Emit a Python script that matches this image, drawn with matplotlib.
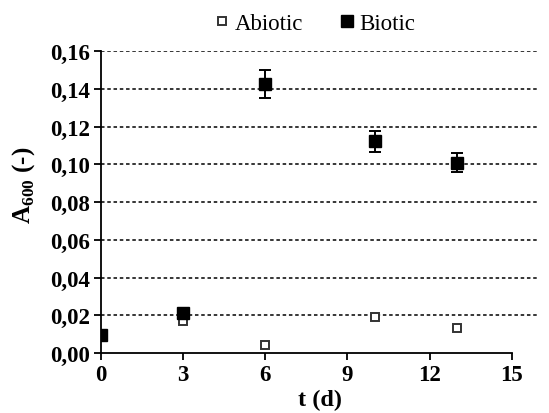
import matplotlib
matplotlib.use("Agg")
import matplotlib.pyplot as plt
from matplotlib.ticker import FuncFormatter
from matplotlib.lines import Line2D

plt.rcParams['font.family'] = ['Liberation Serif', 'DejaVu Serif']
plt.rcParams['mathtext.fontset'] = 'custom'
plt.rcParams['mathtext.rm'] = 'Liberation Serif'
plt.rcParams['mathtext.bf'] = 'Liberation Serif:bold'

t_biotic = [0, 3, 6, 10, 13]
a_biotic = [0.0095, 0.021, 0.1425, 0.1122, 0.1008]
err_biotic = [0.001, 0.0015, 0.0075, 0.0055, 0.005]

t_abiotic = [0, 3, 6, 10, 13]
a_abiotic = [0.009, 0.0168, 0.0044, 0.0189, 0.0132]
err_abiotic = [0.0005, 0.0012, 0.0008, 0.0008, 0.0008]

xticks = [0, 3, 6, 9, 12, 15]
yticks = [0.00, 0.02, 0.04, 0.06, 0.08, 0.10, 0.12, 0.14, 0.16]

fig = plt.figure(figsize=(5.49, 4.14), dpi=100)
ax = fig.add_axes([0.184, 0.145, 0.798, 0.729])

for y in yticks[1:]:
    ax.axhline(y, color='black', lw=1.1, linestyle=(0, (2.3, 1.8)), zorder=1)

ax.errorbar(t_abiotic, a_abiotic, yerr=err_abiotic, fmt='s', ms=6,
            mfc='white', mec='#333333', mew=1.4, ecolor='#333333',
            elinewidth=1, capsize=2.5, label='Abiotic', zorder=3)
ax.errorbar(t_biotic, a_biotic, yerr=err_biotic, fmt='s', ms=9,
            mfc='black', mec='black', ecolor='black',
            elinewidth=1.4, capsize=4, capthick=1.4, label='Biotic', zorder=4)

ax.set_xlim(0, 16)
ax.set_ylim(0, 0.16)
ax.set_xticks(xticks)
ax.set_yticks(yticks)
ax.yaxis.set_major_formatter(FuncFormatter(lambda v, p: f"{v:.2f}".replace('.', ',')))
ax.tick_params(axis='both', labelsize=16.5, direction='out', length=5, width=1.3,
               color='black', pad=3)
for lab in ax.get_xticklabels() + ax.get_yticklabels():
    lab.set_fontweight('bold')
ax.spines['top'].set_visible(False)
ax.spines['right'].set_visible(False)
ax.spines['bottom'].set_bounds(0, 15)
ax.spines['left'].set_linewidth(1.3)
ax.spines['bottom'].set_linewidth(1.3)
for s in ax.spines.values():
    s.set_clip_on(False)

ax.set_xlabel('t (d)', fontsize=17.5, fontweight='bold', labelpad=3)
ax.set_ylabel(r'A$_{\mathbf{600}}$ (-)', fontsize=18, fontweight='bold')
ax.yaxis.set_label_coords(-0.146, 0.56)

handles = [Line2D([], [], marker='s', ls='', ms=6, mfc='white', mec='#333333', mew=1.4),
           Line2D([], [], marker='s', ls='', ms=8, mfc='black', mec='black')]
fig.legend(handles, ['Abiotic', 'Biotic'], loc='center', bbox_to_anchor=(0.57, 0.94),
           ncol=2, frameon=False,
           prop={'family': 'Liberation Serif', 'size': 16.5},
           handletextpad=0.05, columnspacing=1.4, handlelength=1.0)

fig.savefig('out.png', dpi=100)
